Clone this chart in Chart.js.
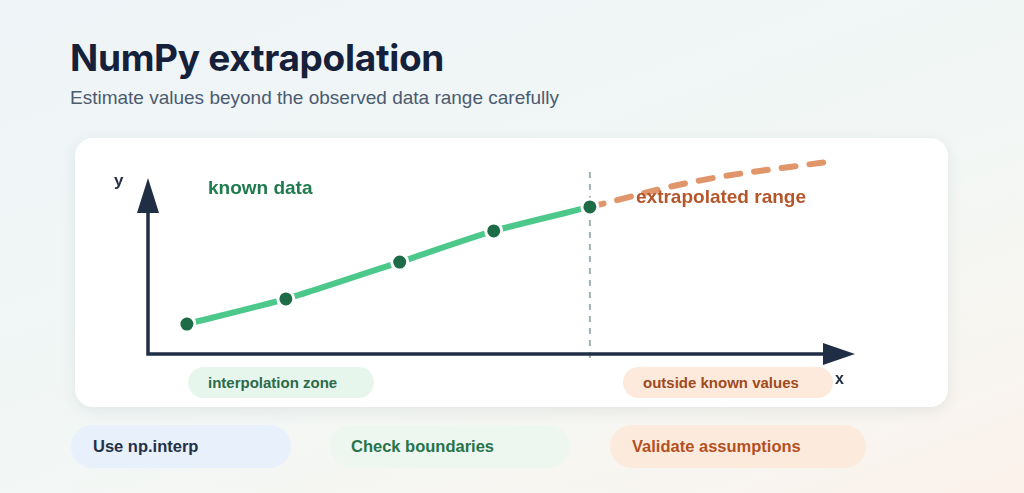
<!DOCTYPE html>
<html>
<head>
<meta charset="utf-8">
<script src="https://cdn.jsdelivr.net/npm/chart.js@4"></script>
<style>
  html, body { margin: 0; padding: 0; }
  body {
    width: 1024px; height: 493px; position: relative; overflow: hidden;
    font-family: "Liberation Sans", Arial, sans-serif;
    background: linear-gradient(160deg, #eef4f7 0%, #f2f7f5 55%, #f8f5f0 85%, #fbf1ea 100%);
  }
  h1 { position: absolute; left: 70px; top: 35px; margin: 0; font: bold 37px Inter, "Liberation Sans", sans-serif; color: #15213a; letter-spacing: -0.3px; }
  .sub { position: absolute; left: 70px; top: 87px; font-size: 19px; color: #4b5b70; }
  .card { position: absolute; left: 75px; top: 138px; width: 873px; height: 269px; background: #fff; border-radius: 18px; box-shadow: 0 4px 16px rgba(30,50,60,0.08); }
  canvas { position: absolute; left: 0; top: 0; }
  .lbl { position: absolute; font-weight: bold; white-space: nowrap; }
  .pill { position: absolute; border-radius: 16px; display: flex; align-items: center; padding-left: 20px; box-sizing: border-box; font-size: 15px; font-weight: bold; white-space: nowrap; }
  .big { border-radius: 22px; height: 43px; top: 425px; font-size: 16.5px; }
</style>
</head>
<body>
<h1>NumPy extrapolation</h1>
<div class="sub">Estimate values beyond the observed data range carefully</div>
<div class="card"></div>
<div class="pill" style="left:188px;top:367px;width:186px;height:31px;background:#e7f6ec;color:#2c6a49;">interpolation zone</div>
<div class="pill" style="left:623px;top:367px;width:210px;height:31px;background:#fdeadc;color:#a04a1e;">outside known values</div>
<canvas id="c" width="1024" height="493"></canvas>
<div class="lbl" style="left:114px;top:171px;font-size:17px;color:#243047;">y</div>
<div class="lbl" style="left:835px;top:370px;font-size:16px;color:#243047;">x</div>
<div class="lbl" style="left:208px;top:177px;font-size:19px;color:#1f7a4d;">known data</div>
<div class="lbl" style="left:636px;top:186px;font-size:19px;color:#b5552a;">extrapolated range</div>
<div class="pill big" style="left:71px;width:220px;background:#e8f0fc;color:#243047;padding-left:22px;">Use np.interp</div>
<div class="pill big" style="left:330px;width:240px;background:#edf7ef;color:#27734a;padding-left:21px;">Check boundaries</div>
<div class="pill big" style="left:610px;width:256px;background:#fcebdd;color:#b4501f;padding-left:22px;">Validate assumptions</div>
<script>
// observed samples
const knownX = [0.55, 1.95, 3.56, 4.89, 6.25];
const knownY = [1.76, 3.24, 5.41, 7.24, 8.65];
// extrapolated continuation (starts at last known point)
const extraX = [6.25, 7.8, 9.6];
const extraY = [8.65, 10.2, 11.3];

const axisMaxX = 10, axisMaxY = 12;

const toXY = (xs, ys) => xs.map((x, i) => ({ x: x, y: ys[i] }));

// axes with arrow heads + boundary marker
const axesPlugin = {
    id: 'axes',
    beforeDatasetsDraw(chart) {
        const ctx = chart.ctx, xs = chart.scales.x, ys = chart.scales.y;
        const ox = xs.getPixelForValue(0), oy = ys.getPixelForValue(0);
        const bx = xs.getPixelForValue(knownX[knownX.length - 1]);
        ctx.save();
        // boundary
        ctx.strokeStyle = '#9db2b6'; ctx.lineWidth = 2; ctx.setLineDash([6, 6]);
        ctx.beginPath(); ctx.moveTo(bx, ys.getPixelForValue(axisMaxY) + 22); ctx.lineTo(bx, oy + 4); ctx.stroke();
        ctx.setLineDash([]);
        // axes
        const tipX = xs.getPixelForValue(axisMaxX), tipY = ys.getPixelForValue(axisMaxY) + 28;
        ctx.strokeStyle = '#1f2d45'; ctx.fillStyle = '#1f2d45'; ctx.lineWidth = 3.5;
        ctx.beginPath(); ctx.moveTo(ox, tipY + 20); ctx.lineTo(ox, oy); ctx.lineTo(tipX - 20, oy); ctx.stroke();
        ctx.beginPath(); ctx.moveTo(ox, tipY); ctx.lineTo(ox - 11, tipY + 35); ctx.lineTo(ox + 11, tipY + 35); ctx.closePath(); ctx.fill();
        ctx.beginPath(); ctx.moveTo(tipX, oy); ctx.lineTo(tipX - 32, oy - 11); ctx.lineTo(tipX - 32, oy + 11); ctx.closePath(); ctx.fill();
        ctx.restore();
    }
};

new Chart(document.getElementById('c'), {
    type: 'scatter',
    data: {
        datasets: [
            {
                label: 'known',
                data: toXY(knownX, knownY),
                showLine: true, tension: 0.2,
                borderColor: '#4cc98a', borderWidth: 6,
                pointRadius: 8, pointBackgroundColor: '#1e6b47',
                pointBorderColor: '#ffffff', pointBorderWidth: 3,
                order: 1
            },
            {
                label: 'extrapolated',
                data: toXY(extraX, extraY),
                showLine: true, tension: 0.4,
                borderColor: '#e0956a', borderWidth: 6,
                borderDash: [14, 14], borderCapStyle: 'round',
                pointRadius: 0,
                order: 2
            }
        ]
    },
    options: {
        responsive: false, animation: false,
        layout: { padding: { left: 148, right: 169, top: 150, bottom: 139 } },
        scales: {
            x: { type: 'linear', display: false, min: 0, max: axisMaxX },
            y: { type: 'linear', display: false, min: 0, max: axisMaxY }
        },
        plugins: { legend: { display: false }, tooltip: { enabled: false } }
    },
    plugins: [axesPlugin]
});
</script>
</body>
</html>
